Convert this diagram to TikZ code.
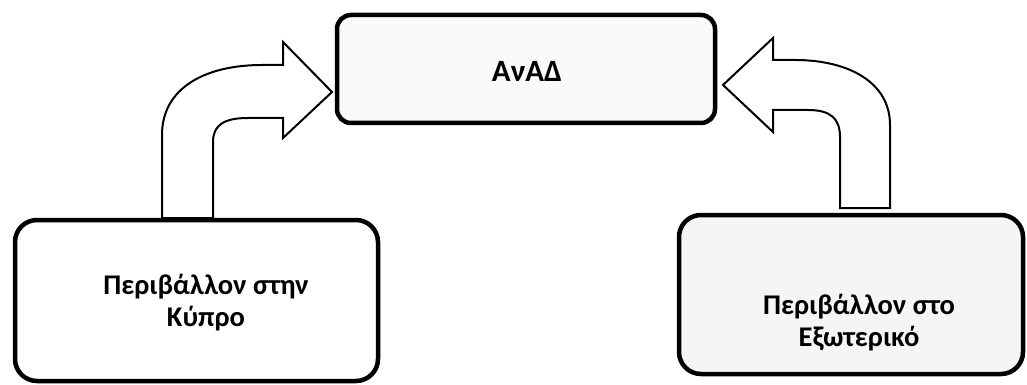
\documentclass[tikz,border=0pt]{standalone}
\usepackage{fontspec}
\setmainfont{Carlito}
\begin{document}
\begin{tikzpicture}[x=1pt,y=-1pt,
  box/.style={draw=black,line width=4.5pt,rounded corners=#1,inner sep=0pt,outer sep=0pt},
  box/.default=22pt,
  label/.style={font=\bfseries\fontsize{28.5}{32}\selectfont,align=center,inner sep=0pt},
  blockarrow/.style={draw=black,line width=2pt,fill=white,line join=miter}]
\useasboundingbox (0,0) rectangle (1027,385);
\node[box=14pt,fill=black!2,minimum width=378pt,minimum height=108pt] (top) at (526,69) {};
\node[box,fill=white,minimum width=363pt,minimum height=161pt] (left) at (196.5,300.5) {};
\node[box,fill=black!4,minimum width=344pt,minimum height=159pt] (right) at (851,294.5) {};
\node[label,font=\bfseries\fontsize{31}{36}\selectfont] (ttop) at (527,71) {ΑνΑΔ};
\node[label] (tleft) at (206,303) {Περιβάλλον στην\\Κύπρο};
\node[label] (tright) at (859,323) {Περιβάλλον στο\\Εξωτερικό};
% left block arrow: from left box up to top box
\draw[blockarrow] (162,218) -- (162,135) .. controls (162,88) and (205,65) .. (262,65) -- (283,65) -- (283,42) -- (332,92) -- (283,138) -- (283,118) -- (248,118) .. controls (224,118) and (213,125) .. (213,142) -- (213,218) -- cycle;
% right block arrow: from right box up to top box
\draw[blockarrow] (890,208) -- (890,125) .. controls (890,82) and (848,60) .. (795,60) -- (773,60) -- (773,38) -- (723,85) -- (773,132) -- (773,110) -- (808,110) .. controls (830,110) and (840,118) .. (840,137) -- (840,208) -- cycle;
\end{tikzpicture}
\end{document}
